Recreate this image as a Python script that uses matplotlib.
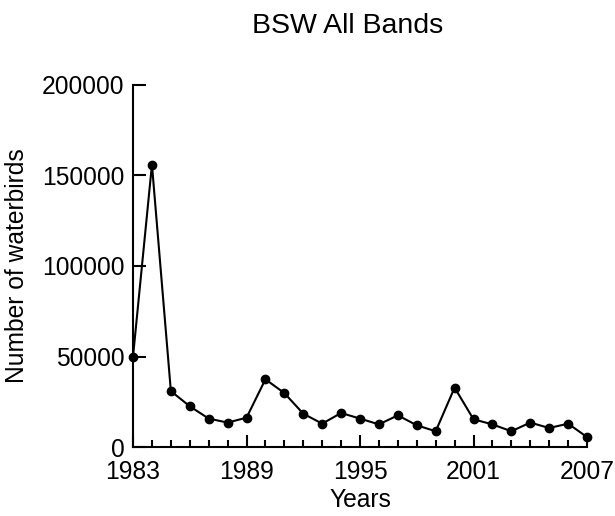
import matplotlib
matplotlib.use('Agg')
import matplotlib.pyplot as plt
from matplotlib.ticker import MultipleLocator

plt.rcParams['font.family'] = ['Liberation Sans', 'DejaVu Sans']

# waterbird counts
years = list(range(1983, 2008))
counts = [50000, 156000, 30900, 22500, 15700, 13500, 16200, 37400, 29800, 18400,
          12900, 18800, 15700, 12500, 17500, 12000, 8700, 32800, 15300, 12500,
          8700, 13500, 10500, 12900, 5500]
year_ticks = [1983, 1989, 1995, 2001, 2007]

fig = plt.figure(figsize=(6.15, 5.16), dpi=100)
ax = fig.add_axes([0.2163, 0.1337, 0.7382, 0.7016])

ax.plot(years, counts, c='black', lw=1.5, marker='o', ms=6, clip_on=False, zorder=3)

ax.set_xlim(1983, 2007)
ax.set_ylim(0, 200000)
ax.set_xticks(year_ticks)
ax.set_xticks(years, minor=True)
ax.yaxis.set_major_locator(MultipleLocator(50000))

ax.spines['top'].set_visible(False)
ax.spines['right'].set_visible(False)
ax.spines['left'].set_linewidth(1.5)
ax.spines['bottom'].set_linewidth(1.5)

# ticks point inward, long for labelled years, short for the rest
ax.tick_params(axis='both', which='major', direction='in', length=9, width=1.5,
               labelsize=17.7, colors='black')
ax.tick_params(axis='x', which='minor', direction='in', length=5, width=1.5)
ax.tick_params(axis='y', which='major', pad=6)
ax.tick_params(axis='x', which='major', pad=9)

ax.set_xlabel("Years", fontsize=17.7)
ax.set_ylabel("Number of waterbirds", fontsize=17.7)
ax.xaxis.set_label_coords(0.5, -0.146)
ax.xaxis.label.set_va('center')
ax.yaxis.set_label_coords(-0.2556, 0.5)
ax.yaxis.label.set_va('center')

fig.text(0.566, 0.936, "BSW All Bands", fontsize=20.5, ha='center', va='baseline')

fig.savefig('out.png', dpi=100)
